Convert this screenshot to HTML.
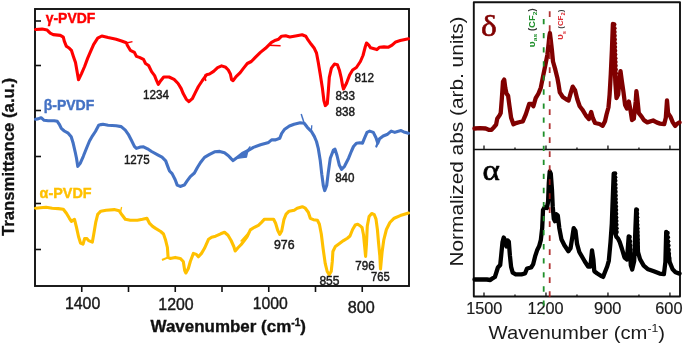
<!DOCTYPE html>
<html><head><meta charset="utf-8"><style>
html,body{margin:0;padding:0;background:#fff;}
svg{display:block;font-family:"Liberation Sans",sans-serif;will-change:transform;}
</style></head><body>
<svg width="685" height="346" viewBox="0 0 685 346">
<rect width="685" height="346" fill="#fff"/>
<rect x="35" y="9" width="374" height="277" fill="none" stroke="#111" stroke-width="1.9"/>
<line x1="35" y1="21" x2="41" y2="21" stroke="#111" stroke-width="1.6"/>
<line x1="35" y1="65.5" x2="41" y2="65.5" stroke="#111" stroke-width="1.6"/>
<line x1="35" y1="110.5" x2="41" y2="110.5" stroke="#111" stroke-width="1.6"/>
<line x1="35" y1="156.5" x2="41" y2="156.5" stroke="#111" stroke-width="1.6"/>
<line x1="35" y1="203.5" x2="41" y2="203.5" stroke="#111" stroke-width="1.6"/>
<line x1="35" y1="249.5" x2="41" y2="249.5" stroke="#111" stroke-width="1.6"/>
<line x1="81.75" y1="286" x2="81.75" y2="292" stroke="#111" stroke-width="1.6"/>
<line x1="128.50" y1="286" x2="128.50" y2="292" stroke="#111" stroke-width="1.6"/>
<line x1="175.25" y1="286" x2="175.25" y2="292" stroke="#111" stroke-width="1.6"/>
<line x1="222.00" y1="286" x2="222.00" y2="292" stroke="#111" stroke-width="1.6"/>
<line x1="268.75" y1="286" x2="268.75" y2="292" stroke="#111" stroke-width="1.6"/>
<line x1="315.50" y1="286" x2="315.50" y2="292" stroke="#111" stroke-width="1.6"/>
<line x1="362.25" y1="286" x2="362.25" y2="292" stroke="#111" stroke-width="1.6"/>
<polyline points="35.5,29.5 42.1,29.1 47.2,30.1 50.2,33.2 53.2,34.6 60.3,35.4 63.3,37.2 64.3,41.2 66.4,46.3 69.4,48.3 71.4,50.3 73.4,56.4 75.5,62.5 76.9,70.6 78.5,79.7 81.5,73.6 84.6,66.5 87.6,58.4 90.6,51.4 93.7,44.3 97.7,38.2 101.8,36.0 108.1,37.6 116.2,39.2 122.3,41.2 126.3,42.7 127.3,45.3 130.3,50.3 134.4,52.4 136.4,56.4 139.4,57.4 143.5,59.4 145.5,63.5 148.6,65.5 151.6,71.6 154.6,75.6 156.6,80.7 158.3,84.3 160.7,80.7 163.7,77.0 169.0,77.0 174.1,79.4 178.1,83.5 181.2,88.6 183.2,93.6 186.2,99.1 188.9,101.7 192.3,98.7 195.3,92.6 198.4,86.5 202.4,80.5 206.5,74.8 209.5,74.0 213.6,71.4 217.6,67.7 221.6,65.9 225.7,67.3 228.3,70.0 230.4,74.0 231.6,79.7 233.1,80.7 236.1,76.6 240.2,72.6 243.2,68.6 247.3,63.5 251.3,61.5 255.3,57.4 260.4,52.4 265.5,48.3 268.5,45.3 271.5,42.3 275.6,40.2 278.6,39.2 281.6,36.2 285.7,35.8 289.8,37.0 295.5,36.0 302.1,34.8 305.8,36.2 308.2,40.2 311.2,44.3 314.3,48.3 316.5,53.0 318.2,62.0 320.2,74.0 322.3,87.4 323.9,100.5 325.3,105.6 327.3,103.6 328.3,91.4 329.3,77.3 331.4,68.1 334.4,64.1 337.4,64.7 339.4,70.2 341.1,77.3 342.5,85.3 343.5,89.0 346.5,83.3 349.6,75.0 352.6,70.0 356.4,67.5 360.4,61.5 363.0,55.5 365.2,47.0 366.5,43.0 368.8,45.1 370.6,47.8 376.9,49.6 379.6,47.2 384.0,46.9 388.5,47.2 392.1,45.1 395.7,41.9 400.2,40.6 403.8,39.7 408.5,38.8" fill="none" stroke="#ff0000" stroke-width="3.1" stroke-linejoin="round" stroke-linecap="round"/>
<polyline points="35.5,119.3 38.0,118.9 41.1,117.7 44.1,120.3 48.2,120.7 54.2,120.7 57.3,121.3 59.3,124.3 61.3,128.4 64.3,131.0 68.2,133.2 71.2,136.8 73.2,143.3 75.3,152.5 76.5,158.3 77.8,166.4 80.2,163.4 83.3,156.3 86.4,148.5 89.5,141.0 92.5,135.8 95.4,131.5 98.7,125.3 101.0,124.6 103.0,124.3 108.1,125.2 116.2,125.8 121.2,126.6 125.3,130.2 128.3,134.3 131.4,140.3 134.4,146.4 136.4,148.4 140.5,147.0 143.5,146.8 147.5,148.8 151.6,151.5 157.7,154.9 162.0,157.2 165.7,160.9 167.8,166.6 169.5,171.0 172.1,173.6 175.2,179.7 177.2,185.1 180.2,186.4 184.3,185.1 187.3,180.7 190.3,176.6 194.4,173.0 197.4,167.5 200.5,162.5 204.5,157.4 209.6,154.4 214.6,151.8 219.7,151.4 224.5,152.8 228.4,155.7 231.1,158.6 233.1,160.6 237.2,157.5 242.3,153.5 248.3,150.5 253.4,147.4 260.5,144.8 268.6,142.4 271.6,139.9 275.6,139.9 279.7,138.3 281.7,133.3 284.7,129.2 289.4,126.0 294.1,124.2 300.2,122.8 304.2,123.2 307.3,127.3 311.3,131.3 314.3,136.4 316.5,141.5 318.2,148.1 320.2,160.2 321.8,174.4 323.3,185.5 324.7,190.6 326.7,185.5 328.3,172.4 330.3,158.2 333.4,150.1 335.0,149.2 337.0,155.5 339.4,165.3 341.5,169.3 344.5,166.3 348.6,158.2 351.5,151.0 353.5,146.5 356.4,143.2 359.9,142.8 362.5,143.2 364.3,138.7 367.0,132.4 369.7,131.1 373.3,132.4 376.0,137.8 377.8,143.2 379.6,138.7 383.2,136.0 387.6,134.2 391.2,131.1 394.8,132.4 397.5,131.5 401.1,130.6 403.8,131.9 408.5,133.3" fill="none" stroke="#4472c4" stroke-width="3.1" stroke-linejoin="round" stroke-linecap="round"/>
<polyline points="35.5,208.2 40.1,207.8 46.1,207.2 52.2,208.2 58.3,208.6 63.3,209.2 66.4,213.3 69.4,218.3 71.4,221.4 74.5,219.3 76.5,227.4 78.5,236.5 80.5,243.0 83.0,244.2 84.6,238.6 87.0,238.6 88.6,240.6 92.3,242.2 93.7,234.5 95.7,222.4 97.7,214.3 100.8,211.2 106.1,210.2 114.2,209.6 119.2,210.8 122.3,215.3 125.3,219.3 130.3,220.3 137.4,220.3 142.5,219.3 146.9,218.3 149.6,223.4 152.6,226.4 155.6,228.4 160.7,231.5 163.5,234.0 165.4,239.4 167.4,247.5 168.1,257.4 170.1,258.4 175.2,257.4 180.2,258.4 183.3,261.5 184.7,270.6 185.9,273.0 188.3,268.6 190.3,261.5 193.4,253.4 196.4,254.4 198.4,256.8 201.5,253.4 204.5,248.3 208.6,239.2 211.6,237.2 215.6,236.2 220.7,233.8 224.5,232.3 228.0,235.3 231.1,240.5 233.8,246.5 235.2,251.0 238.2,247.5 241.2,244.5 244.3,240.5 247.3,236.4 250.3,229.9 254.4,227.3 258.4,225.3 261.5,222.3 264.5,219.2 269.6,219.2 273.6,219.2 275.6,223.3 277.7,230.3 279.7,234.4 281.7,231.0 284.0,219.3 286.1,214.2 289.1,211.2 294.2,210.2 297.2,208.2 302.3,206.7 305.3,208.2 308.3,212.2 310.3,218.3 313.4,219.7 317.4,220.3 319.4,224.3 321.3,234.0 323.2,249.3 325.2,263.4 327.2,271.5 329.2,274.6 331.2,271.5 332.3,261.4 332.9,251.5 335.4,246.4 339.5,243.4 343.5,240.6 347.4,238.2 350.0,236.0 352.6,229.5 355.2,225.1 357.8,224.3 360.4,226.0 362.1,227.7 363.5,234.7 364.7,246.8 365.6,256.4 366.5,243.3 367.3,226.0 369.1,216.5 371.7,213.5 374.3,214.7 376.0,219.1 377.4,229.5 378.6,243.3 379.8,255.5 380.5,269.0 382.1,252.0 383.8,239.9 386.4,229.5 389.9,222.5 394.2,218.2 400.3,215.6 408.5,213.0" fill="none" stroke="#ffc000" stroke-width="3.1" stroke-linejoin="round" stroke-linecap="round"/>
<path d="M268.5,45.3 L280.6,45.8" stroke="#ff0000" stroke-width="1.5" fill="none"/>
<path d="M204.6,74.5 L205.8,81" stroke="#ff0000" stroke-width="1.4" fill="none"/>
<path d="M304.2,123.2 L301.2,114.1" stroke="#4472c4" stroke-width="1.5" fill="none"/>
<path d="M311.3,131.5 L311.8,125.2" stroke="#4472c4" stroke-width="1.3" fill="none"/>
<path d="M378,142.5 L376.3,146.5" stroke="#4472c4" stroke-width="2.2" fill="none" stroke-linecap="round"/>
<path d="M236.5,158.5 L247.8,151.2 L246.5,157.2 Z" stroke="#4472c4" stroke-width="1.2" fill="#4472c4" stroke-linejoin="round"/>
<path d="M245.5,152.5 L250.3,146.3" stroke="#4472c4" stroke-width="1.3" fill="none"/>
<path d="M168.1,257.4 L162,260" stroke="#ffc000" stroke-width="2" fill="none"/>
<path d="M120.5,212 L121.6,207" stroke="#ffc000" stroke-width="1.3" fill="none"/>
<path d="M241,241 L249.5,231.5 L246.5,238.5 Z" stroke="#ffc000" stroke-width="1.4" fill="#ffc000" stroke-linejoin="round"/>
<path d="M126.5,43 L132.5,41.6" stroke="#ff0000" stroke-width="1.4" fill="none"/>
<text x="45.7" y="23.3" font-size="14.2" font-weight="bold" fill="#ff0000" stroke="#ff0000" stroke-width="0.4" textLength="49.6" lengthAdjust="spacingAndGlyphs">γ-PVDF</text>
<text x="43.7" y="110.1" font-size="14.2" font-weight="bold" fill="#4472c4" stroke="#4472c4" stroke-width="0.4" textLength="50.6" lengthAdjust="spacingAndGlyphs">β-PVDF</text>
<text x="39.6" y="198.4" font-size="14.8" font-weight="bold" fill="#ffc000" stroke="#ffc000" stroke-width="0.4" textLength="52" lengthAdjust="spacingAndGlyphs">α-PVDF</text>
<text x="143" y="99" font-size="12" fill="#1a1a1a" stroke="#1a1a1a" stroke-width="0.45" textLength="26" lengthAdjust="spacingAndGlyphs">1234</text>
<text x="335.5" y="100.3" font-size="12" fill="#1a1a1a" stroke="#1a1a1a" stroke-width="0.45" textLength="19.4" lengthAdjust="spacingAndGlyphs">833</text>
<text x="335.5" y="115.5" font-size="12" fill="#1a1a1a" stroke="#1a1a1a" stroke-width="0.45" textLength="19.4" lengthAdjust="spacingAndGlyphs">838</text>
<text x="354.6" y="81.5" font-size="12" fill="#1a1a1a" stroke="#1a1a1a" stroke-width="0.45" textLength="19.5" lengthAdjust="spacingAndGlyphs">812</text>
<text x="123.9" y="163.5" font-size="12" fill="#1a1a1a" stroke="#1a1a1a" stroke-width="0.45" textLength="25.7" lengthAdjust="spacingAndGlyphs">1275</text>
<text x="335.2" y="181.6" font-size="12" fill="#1a1a1a" stroke="#1a1a1a" stroke-width="0.45" textLength="19.3" lengthAdjust="spacingAndGlyphs">840</text>
<text x="274" y="249" font-size="12" fill="#1a1a1a" stroke="#1a1a1a" stroke-width="0.45" textLength="20.6" lengthAdjust="spacingAndGlyphs">976</text>
<text x="319.4" y="284.5" font-size="12" fill="#1a1a1a" stroke="#1a1a1a" stroke-width="0.45" textLength="20.1" lengthAdjust="spacingAndGlyphs">855</text>
<text x="355.3" y="269.8" font-size="12" fill="#1a1a1a" stroke="#1a1a1a" stroke-width="0.45" textLength="19.3" lengthAdjust="spacingAndGlyphs">796</text>
<text x="371" y="280.7" font-size="12" fill="#1a1a1a" stroke="#1a1a1a" stroke-width="0.45" textLength="18.7" lengthAdjust="spacingAndGlyphs">765</text>
<text x="64.90" y="308.6" font-size="16" fill="#1a1a1a" stroke="#1a1a1a" stroke-width="0.4" textLength="35.4" lengthAdjust="spacingAndGlyphs">1400</text>
<text x="158.35" y="309.6" font-size="16" fill="#1a1a1a" stroke="#1a1a1a" stroke-width="0.4" textLength="35.3" lengthAdjust="spacingAndGlyphs">1200</text>
<text x="252.70" y="308.5" font-size="16" fill="#1a1a1a" stroke="#1a1a1a" stroke-width="0.4" textLength="35" lengthAdjust="spacingAndGlyphs">1000</text>
<text x="347.70" y="312.5" font-size="16" fill="#1a1a1a" stroke="#1a1a1a" stroke-width="0.4" textLength="27" lengthAdjust="spacingAndGlyphs">800</text>
<text x="150.5" y="332.3" font-size="16.6" font-weight="bold" fill="#111" stroke="#111" stroke-width="0.35" textLength="155.5" lengthAdjust="spacingAndGlyphs">Wavenumber (cm<tspan font-size="10" dy="-6">-1</tspan><tspan dy="6">)</tspan></text>
<text transform="translate(13.8,236) rotate(-90)" x="0" y="0" font-size="15.8" font-weight="bold" fill="#111" stroke="#111" stroke-width="0.3" textLength="158" lengthAdjust="spacingAndGlyphs">Transmittance (a.u.)</text>
<rect x="473.8" y="2.3" width="206.2" height="294.2" fill="none" stroke="#111" stroke-width="1.9" stroke-linejoin="round"/>
<line x1="473.8" y1="149.5" x2="680" y2="149.5" stroke="#111" stroke-width="1.7"/>
<line x1="484.00" y1="149.5" x2="484.00" y2="145.5" stroke="#111" stroke-width="1.3"/>
<line x1="545.98" y1="149.5" x2="545.98" y2="145.5" stroke="#111" stroke-width="1.3"/>
<line x1="607.96" y1="149.5" x2="607.96" y2="145.5" stroke="#111" stroke-width="1.3"/>
<line x1="669.94" y1="149.5" x2="669.94" y2="145.5" stroke="#111" stroke-width="1.3"/>
<line x1="514.99" y1="149.5" x2="514.99" y2="147.5" stroke="#111" stroke-width="1.3"/>
<line x1="576.97" y1="149.5" x2="576.97" y2="147.5" stroke="#111" stroke-width="1.3"/>
<line x1="638.95" y1="149.5" x2="638.95" y2="147.5" stroke="#111" stroke-width="1.3"/>
<line x1="484.00" y1="296.5" x2="484.00" y2="292.5" stroke="#111" stroke-width="1.3"/>
<line x1="545.98" y1="296.5" x2="545.98" y2="292.5" stroke="#111" stroke-width="1.3"/>
<line x1="607.96" y1="296.5" x2="607.96" y2="292.5" stroke="#111" stroke-width="1.3"/>
<line x1="669.94" y1="296.5" x2="669.94" y2="292.5" stroke="#111" stroke-width="1.3"/>
<line x1="514.99" y1="296.5" x2="514.99" y2="294.5" stroke="#111" stroke-width="1.3"/>
<line x1="576.97" y1="296.5" x2="576.97" y2="294.5" stroke="#111" stroke-width="1.3"/>
<line x1="638.95" y1="296.5" x2="638.95" y2="294.5" stroke="#111" stroke-width="1.3"/>
<polyline points="474.5,128.5 479.9,128.1 485.7,128.5 489.2,129.9 491.5,129.9 493.8,127.4 496.1,124.6 497.2,118.8 499.5,115.4 500.7,113.1 501.8,99.2 503.0,81.5 504.2,79.5 505.3,88.0 506.5,93.5 508.1,95.8 509.5,106.2 511.1,117.7 513.4,124.2 516.8,122.8 520.0,122.0 522.8,121.3 525.8,114.3 529.2,103.9 531.6,103.9 533.4,106.2 535.7,98.2 538.5,93.5 540.8,87.7 543.1,76.2 545.0,66.9 547.4,54.6 548.7,43.1 549.4,36.0 549.9,33.0 550.6,38.5 551.9,50.0 553.0,61.5 555.2,69.2 557.3,77.7 558.5,84.0 559.8,92.4 562.8,97.0 566.2,99.3 568.6,100.5 570.9,92.4 572.7,86.6 575.0,90.1 577.3,99.3 579.7,106.2 582.4,109.7 585.9,115.5 588.9,119.0 591.2,112.0 592.8,118.0 595.1,123.0 599.5,124.0 602.7,125.8 605.0,121.2 606.6,114.2 608.5,107.3 609.6,94.6 610.8,73.8 611.9,50.0 612.9,23.8 614.2,55.0 615.4,83.1 616.5,98.1 618.2,94.6 619.5,78.5 620.5,71.1 621.8,80.8 623.5,92.3 625.1,105.0 626.9,108.5 628.8,101.5 630.4,109.6 632.0,120.0 633.8,118.8 635.7,101.5 636.4,91.2 637.4,99.3 638.8,113.2 641.6,116.6 643.9,120.1 647.3,122.4 653.1,120.5 656.6,122.4 660.0,123.6 664.2,124.2 665.8,117.8 667.0,100.4 668.1,113.2 670.4,116.6 672.8,122.4 675.1,125.9 677.4,123.6 679.5,122.4" fill="none" stroke="#800000" stroke-width="4.3" stroke-linejoin="round" stroke-linecap="round"/>
<polyline points="474.5,279.5 486.8,279.5 490.3,280.0 492.6,278.3 494.9,277.0 496.5,272.0 497.9,267.5 500.2,265.0 501.2,255.4 502.5,242.0 503.7,237.5 505.3,241.0 506.5,246.5 507.6,240.4 508.8,241.5 509.9,255.4 511.1,266.9 512.7,272.7 515.7,274.3 521.5,274.3 525.0,273.5 527.0,268.5 531.1,267.5 533.1,264.4 535.1,256.4 537.1,250.3 539.1,246.3 540.8,240.2 542.2,228.1 543.0,210.0 544.6,207.3 546.9,208.0 548.1,201.5 548.8,183.1 549.7,171.5 550.8,173.8 552.0,190.0 552.7,206.2 553.8,218.8 555.0,221.2 556.2,214.2 557.8,215.4 559.3,228.1 561.4,239.2 564.4,245.3 568.4,251.3 570.5,248.3 572.5,236.2 573.7,228.1 575.5,231.0 577.1,244.2 579.3,252.0 582.5,257.5 584.8,261.5 588.1,266.5 590.4,266.5 592.0,250.4 593.4,259.6 594.3,271.2 597.3,273.5 600.8,275.8 603.1,276.9 604.9,272.3 607.2,266.5 608.8,260.8 610.5,242.3 611.8,223.8 613.7,173.6 614.8,232.0 616.5,237.0 618.0,238.5 619.6,241.7 622.0,249.0 624.5,257.5 627.0,259.5 628.7,236.5 629.8,247.0 630.8,265.4 632.2,269.5 634.2,261.0 635.4,229.0 636.2,209.5 637.1,228.0 638.0,252.0 640.0,259.2 643.7,265.6 648.1,269.3 653.8,271.3 659.6,273.6 663.9,274.2 665.4,262.1 666.2,231.8 667.7,247.7 669.7,262.1 672.6,269.3 675.5,272.2 679.5,273.6" fill="none" stroke="#000" stroke-width="4.3" stroke-linejoin="round" stroke-linecap="round"/>
<text transform="translate(481,35.5) scale(1.12,1)" font-family="Liberation Serif" font-size="30" fill="#800000" stroke="#800000" stroke-width="0.6">δ</text>
<text transform="translate(482.5,180.3) scale(1.14,1)" font-family="Liberation Serif" font-size="29" fill="#000" stroke="#000" stroke-width="0.6">α</text>
<text transform="translate(535.2,47.5) rotate(-90)" font-size="8.5" font-weight="bold" fill="#1f8f2b" textLength="39.3" lengthAdjust="spacingAndGlyphs"><tspan font-size="9.5">υ</tspan><tspan font-size="6" dy="2.2">as</tspan><tspan dy="-2.2"> </tspan><tspan fill="#333">(</tspan>CF<tspan font-size="6" dy="2.2">2</tspan><tspan dy="-2.2" fill="#333">)</tspan></text>
<text transform="translate(563,40) rotate(-90)" font-size="7.5" font-weight="bold" fill="#dc2f35" textLength="30.3" lengthAdjust="spacingAndGlyphs"><tspan font-size="9.5">υ</tspan><tspan font-size="5.5" dy="2.6">s</tspan><tspan dy="-2.6"> </tspan><tspan fill="#333">(</tspan>CF<tspan font-size="5.5" dy="2.4">2</tspan><tspan dy="-2.4" fill="#333">)</tspan></text>
<circle cx="614.30" cy="24.50" r="2.2" fill="#800000"/>
<circle cx="614.42" cy="28.25" r="2.2" fill="#800000"/>
<circle cx="614.53" cy="32.00" r="2.2" fill="#800000"/>
<circle cx="614.65" cy="35.75" r="2.2" fill="#800000"/>
<circle cx="614.77" cy="39.50" r="2.2" fill="#800000"/>
<circle cx="614.88" cy="43.25" r="2.2" fill="#800000"/>
<circle cx="615.00" cy="47.00" r="2.2" fill="#800000"/>
<circle cx="615.12" cy="50.75" r="2.2" fill="#800000"/>
<circle cx="615.23" cy="54.50" r="2.2" fill="#800000"/>
<circle cx="615.35" cy="58.25" r="2.2" fill="#800000"/>
<circle cx="615.47" cy="62.00" r="2.2" fill="#800000"/>
<circle cx="615.58" cy="65.75" r="2.2" fill="#800000"/>
<circle cx="615.70" cy="69.50" r="2.2" fill="#800000"/>
<circle cx="615.82" cy="73.25" r="2.2" fill="#800000"/>
<circle cx="615.93" cy="77.00" r="2.2" fill="#800000"/>
<circle cx="616.05" cy="80.75" r="2.2" fill="#800000"/>
<circle cx="616.17" cy="84.50" r="2.2" fill="#800000"/>
<circle cx="616.28" cy="88.25" r="2.2" fill="#800000"/>
<circle cx="616.40" cy="92.00" r="2.2" fill="#800000"/>
<circle cx="615.10" cy="173.50" r="2.2" fill="#000"/>
<circle cx="615.19" cy="177.16" r="2.2" fill="#000"/>
<circle cx="615.29" cy="180.81" r="2.2" fill="#000"/>
<circle cx="615.38" cy="184.47" r="2.2" fill="#000"/>
<circle cx="615.48" cy="188.12" r="2.2" fill="#000"/>
<circle cx="615.57" cy="191.78" r="2.2" fill="#000"/>
<circle cx="615.66" cy="195.44" r="2.2" fill="#000"/>
<circle cx="615.76" cy="199.09" r="2.2" fill="#000"/>
<circle cx="615.85" cy="202.75" r="2.2" fill="#000"/>
<circle cx="615.94" cy="206.41" r="2.2" fill="#000"/>
<circle cx="616.04" cy="210.06" r="2.2" fill="#000"/>
<circle cx="616.13" cy="213.72" r="2.2" fill="#000"/>
<circle cx="616.23" cy="217.38" r="2.2" fill="#000"/>
<circle cx="616.32" cy="221.03" r="2.2" fill="#000"/>
<circle cx="616.41" cy="224.69" r="2.2" fill="#000"/>
<circle cx="616.51" cy="228.34" r="2.2" fill="#000"/>
<circle cx="616.60" cy="232.00" r="2.2" fill="#000"/>
<circle cx="637.00" cy="210.00" r="2.2" fill="#000"/>
<circle cx="637.07" cy="213.67" r="2.2" fill="#000"/>
<circle cx="637.13" cy="217.33" r="2.2" fill="#000"/>
<circle cx="637.20" cy="221.00" r="2.2" fill="#000"/>
<circle cx="637.27" cy="224.67" r="2.2" fill="#000"/>
<circle cx="637.33" cy="228.33" r="2.2" fill="#000"/>
<circle cx="637.40" cy="232.00" r="2.2" fill="#000"/>
<circle cx="637.47" cy="235.67" r="2.2" fill="#000"/>
<circle cx="637.53" cy="239.33" r="2.2" fill="#000"/>
<circle cx="637.60" cy="243.00" r="2.2" fill="#000"/>
<circle cx="637.67" cy="246.67" r="2.2" fill="#000"/>
<circle cx="637.73" cy="250.33" r="2.2" fill="#000"/>
<circle cx="637.80" cy="254.00" r="2.2" fill="#000"/>
<circle cx="667.60" cy="233.00" r="2.2" fill="#000"/>
<circle cx="667.87" cy="237.17" r="2.2" fill="#000"/>
<circle cx="668.13" cy="241.33" r="2.2" fill="#000"/>
<circle cx="668.40" cy="245.50" r="2.2" fill="#000"/>
<circle cx="668.67" cy="249.67" r="2.2" fill="#000"/>
<circle cx="668.93" cy="253.83" r="2.2" fill="#000"/>
<circle cx="669.20" cy="258.00" r="2.2" fill="#000"/>
<circle cx="629.70" cy="237.00" r="2.2" fill="#000"/>
<circle cx="629.94" cy="241.20" r="2.2" fill="#000"/>
<circle cx="630.18" cy="245.40" r="2.2" fill="#000"/>
<circle cx="630.42" cy="249.60" r="2.2" fill="#000"/>
<circle cx="630.66" cy="253.80" r="2.2" fill="#000"/>
<circle cx="630.90" cy="258.00" r="2.2" fill="#000"/>
<text x="466.20" y="313.8" font-size="16" fill="#1a1a1a" stroke="#1a1a1a" stroke-width="0.2" textLength="36.2" lengthAdjust="spacingAndGlyphs">1500</text>
<text x="527.40" y="313.8" font-size="16" fill="#1a1a1a" stroke="#1a1a1a" stroke-width="0.2" textLength="36.2" lengthAdjust="spacingAndGlyphs">1200</text>
<text x="594.05" y="313.8" font-size="16" fill="#1a1a1a" stroke="#1a1a1a" stroke-width="0.2" textLength="27.3" lengthAdjust="spacingAndGlyphs">900</text>
<text x="655.25" y="313.8" font-size="16" fill="#1a1a1a" stroke="#1a1a1a" stroke-width="0.2" textLength="27.3" lengthAdjust="spacingAndGlyphs">600</text>
<line x1="543.7" y1="19" x2="543.7" y2="315" stroke="#1f8f2b" stroke-width="1.8" stroke-dasharray="5.3 8.77"/>
<line x1="549.7" y1="11.2" x2="549.7" y2="297" stroke="#a51818" stroke-opacity="0.88" stroke-width="1.8" stroke-dasharray="5.8 8.2"/>
<text x="488.6" y="339.3" font-size="19" fill="#1a1a1a" textLength="176.5" lengthAdjust="spacingAndGlyphs">Wavenumber (cm<tspan font-size="11.5" dy="-7">-1</tspan><tspan dy="7">)</tspan></text>
<text transform="translate(462.5,266.5) rotate(-90)" font-size="18" fill="#1a1a1a" textLength="250" lengthAdjust="spacingAndGlyphs">Normalized abs (arb. units)</text>
</svg>
</body></html>
